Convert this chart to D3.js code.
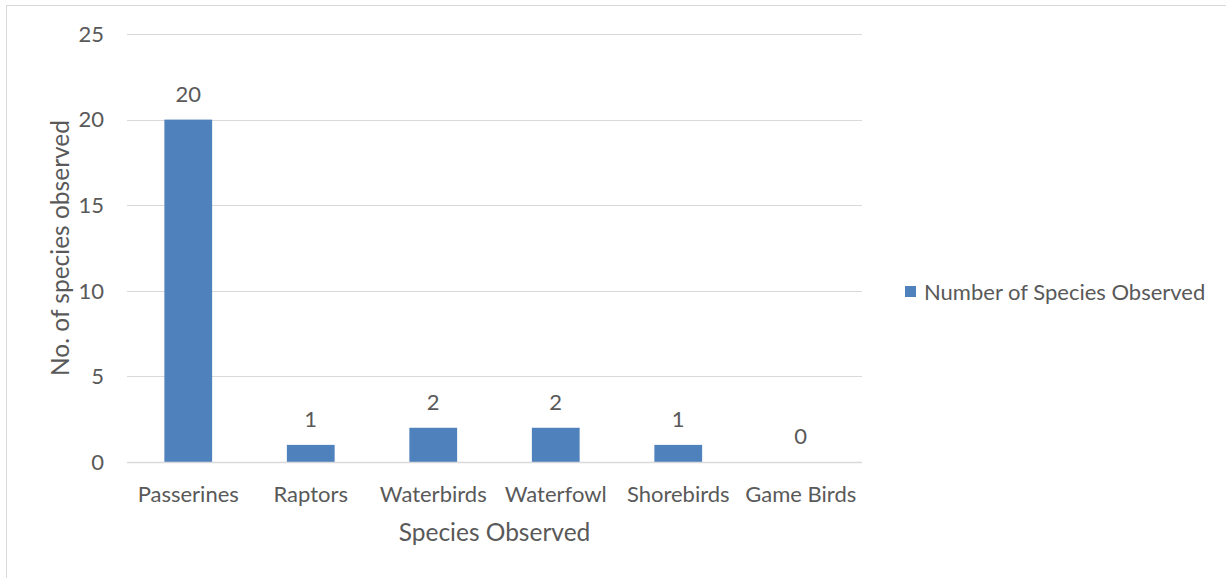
<!DOCTYPE html>
<html>
<head>
<meta charset="utf-8">
<script src="https://d3js.org/d3.v7.min.js"></script>
<style>
  body { margin: 0; background: #fff; }
  text { font-family: Lato, "Open Sans", sans-serif; fill: #595959; }
</style>
</head>
<body>
<svg id="chart" width="1226" height="578"></svg>
<script>
// data
const categories = ["Passerines", "Raptors", "Waterbirds", "Waterfowl", "Shorebirds", "Game Birds"];
const counts = [20, 1, 2, 2, 1, 0];
const yTicks = [0, 5, 10, 15, 20, 25];
const seriesName = "Number of Species Observed";

const svg = d3.select("#chart");
const margin = { top: 34, right: 364, bottom: 116, left: 127 };
const width = 1226, height = 578;

// outer chart border (only top and left show in the crop)
svg.append("rect")
  .attr("x", 6.5).attr("y", 5.5)
  .attr("width", 1240).attr("height", 600)
  .attr("fill", "none").attr("stroke", "#d9d9d9");

const x = d3.scaleBand()
  .domain(categories)
  .range([margin.left, width - margin.right])
  .paddingInner(0.61).paddingOuter(0.305);

const y = d3.scaleLinear()
  .domain([0, 25])
  .range([height - margin.bottom, margin.top]);

// gridlines
svg.append("g").selectAll("line")
  .data(yTicks.filter(d => d > 0))
  .join("line")
  .attr("x1", margin.left).attr("x2", width - margin.right)
  .attr("y1", d => Math.round(y(d)) + 0.5).attr("y2", d => Math.round(y(d)) + 0.5)
  .attr("stroke", "#d9d9d9").attr("stroke-width", 1);

// y tick labels
svg.append("g").selectAll("text")
  .data(yTicks)
  .join("text")
  .attr("x", 104).attr("y", d => y(d))
  .attr("dy", "0.35em")
  .attr("text-anchor", "end")
  .style("font-size", "22px")
  .text(d => d);

// bars
svg.append("g").selectAll("rect")
  .data(counts)
  .join("rect")
  .attr("x", (d, i) => x(categories[i]))
  .attr("y", d => y(d))
  .attr("width", x.bandwidth())
  .attr("height", d => y(0) - y(d))
  .attr("fill", "#4f81bd");

// baseline
svg.append("line")
  .attr("x1", margin.left).attr("x2", width - margin.right)
  .attr("y1", Math.round(y(0)) + 0.5).attr("y2", Math.round(y(0)) + 0.5)
  .attr("stroke", "#d9d9d9").attr("stroke-width", 1.5);

// value labels
svg.append("g").selectAll("text")
  .data(counts)
  .join("text")
  .attr("x", (d, i) => x(categories[i]) + x.bandwidth() / 2)
  .attr("y", d => y(d) - 18)
  .attr("text-anchor", "middle")
  .style("font-size", "22px")
  .text(d => d);

// x tick labels
svg.append("g").selectAll("text")
  .data(categories)
  .join("text")
  .attr("x", d => x(d) + x.bandwidth() / 2)
  .attr("y", 494)
  .attr("dy", "0.35em")
  .attr("text-anchor", "middle")
  .style("font-size", "22px")
  .text(d => d);

// axis titles
svg.append("text")
  .attr("x", (margin.left + width - margin.right) / 2)
  .attr("y", 532).attr("dy", "0.35em")
  .attr("text-anchor", "middle")
  .style("font-size", "24.5px")
  .text("Species Observed");

svg.append("text")
  .attr("transform", `translate(60,${(margin.top + height - margin.bottom) / 2}) rotate(-90)`)
  .attr("dy", "0.35em")
  .attr("text-anchor", "middle")
  .style("font-size", "24.5px")
  .text("No. of species observed");

// legend
const legend = svg.append("g").attr("transform", "translate(905,286)");
legend.append("rect").attr("width", 11).attr("height", 11).attr("fill", "#4f81bd");
legend.append("text")
  .attr("x", 19).attr("y", 6).attr("dy", "0.35em")
  .style("font-size", "22px")
  .text(seriesName);
</script>
</body>
</html>
